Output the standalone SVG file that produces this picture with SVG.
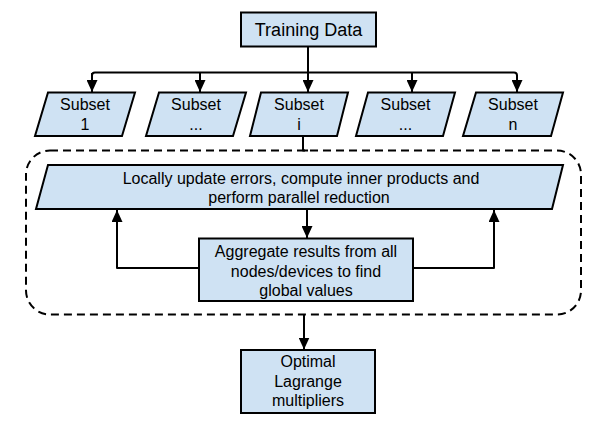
<svg xmlns="http://www.w3.org/2000/svg" width="606" height="428" viewBox="0 0 606 428">
<defs>
<style>
.box{fill:#cfe2f3;stroke:#000;stroke-width:2}
.t{font-family:"Liberation Sans",Arial,sans-serif;font-size:16px;fill:#000;text-anchor:middle}
.big{font-size:18px}
.c{fill:none;stroke:#000;stroke-width:2;stroke-linejoin:round}
.dash{fill:none;stroke:#000;stroke-width:2;stroke-dasharray:8 5}
</style>
<marker id="ah" markerUnits="userSpaceOnUse" markerWidth="13" markerHeight="11" refX="12" refY="5.5" orient="auto">
<path d="M0,0 L12,5.5 L0,11 z" fill="#000"/>
</marker>
</defs>
<rect width="606" height="428" fill="#fff"/>

<g id="container">
<rect class="dash" x="26" y="150.5" width="555" height="164" rx="24" ry="24"/>
</g>

<g id="training">
<rect class="box" x="241" y="12.5" width="135" height="34"/>
<text class="t big" x="308.5" y="36">Training Data</text>
</g>

<g id="subset1">
<polygon class="box" points="48,92.5 135,92.5 122,136 35,136"/>
<text class="t" x="85" y="110">Subset</text>
<text class="t" x="85" y="129.5">1</text>
</g>
<g id="subset2">
<polygon class="box" points="159,92.5 246,92.5 233,136 146,136"/>
<text class="t" x="196" y="110">Subset</text>
<text class="t" x="196" y="129.5">...</text>
</g>
<g id="subseti">
<polygon class="box" points="261,92.5 348,92.5 337,136 250,136"/>
<text class="t" x="299" y="110">Subset</text>
<text class="t" x="299" y="129.5">i</text>
</g>
<g id="subset4">
<polygon class="box" points="368,92.5 455,92.5 443,136 356,136"/>
<text class="t" x="405.5" y="110">Subset</text>
<text class="t" x="405.5" y="129.5">...</text>
</g>
<g id="subsetn">
<polygon class="box" points="476,92.5 563,92.5 551,136 463,136"/>
<text class="t" x="513" y="110">Subset</text>
<text class="t" x="513" y="129.5">n</text>
</g>

<g id="local">
<polygon class="box" points="48,165 563,165 552,209 36,209"/>
<text class="t" x="301" y="183.5">Locally update errors, compute inner products and</text>
<text class="t" x="299" y="203">perform parallel reduction</text>
</g>

<g id="aggregate">
<rect class="box" x="199" y="238.5" width="214" height="62.5"/>
<text class="t" x="306" y="257">Aggregate results from all</text>
<text class="t" x="306" y="276.5">nodes/devices to find</text>
<text class="t" x="306" y="295.5">global values</text>
</g>

<g id="optimal">
<rect class="box" x="241" y="350" width="134" height="63"/>
<text class="t" x="308" y="367">Optimal</text>
<text class="t" x="308" y="386.5">Lagrange</text>
<text class="t" x="308" y="406">multipliers</text>
</g>

<g id="connectors">
<path class="c" d="M308,46.5 V72.5"/>
<path class="c" d="M92,92 V75.5 Q92,72.5 95,72.5 H514 Q517,72.5 517,75.5 V92" marker-end="url(#ah)"/>
<path class="c" d="M92,73 V92" marker-end="url(#ah)"/>
<path class="c" d="M200,72.5 V92" marker-end="url(#ah)"/>
<path class="c" d="M308,72.5 V92" marker-end="url(#ah)"/>
<path class="c" d="M412,72.5 V92" marker-end="url(#ah)"/>
<path class="c" d="M303,136 V150.5 H308"/>
<path class="c" d="M307,209 V238" marker-end="url(#ah)"/>
<path class="c" d="M199,268 H117 V210" marker-end="url(#ah)"/>
<path class="c" d="M413,268 H494 V210" marker-end="url(#ah)"/>
<path class="c" d="M304,314.5 V349.5" marker-end="url(#ah)"/>
</g>
</svg>
